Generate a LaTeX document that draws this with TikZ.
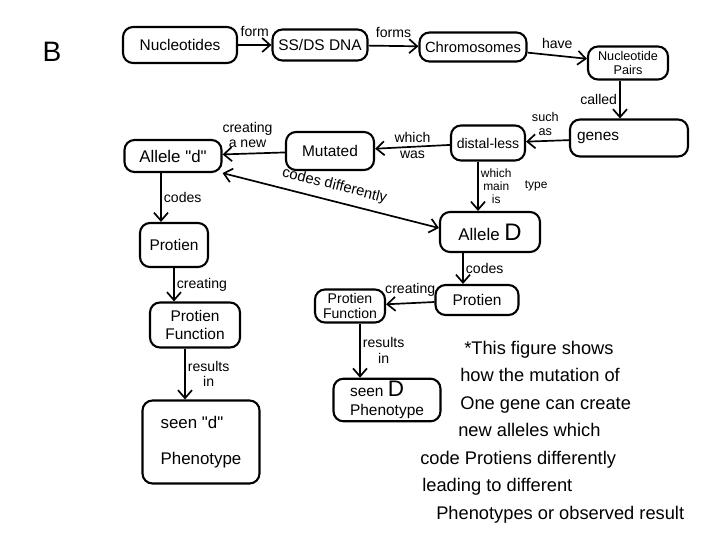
\documentclass[tikz,border=0pt]{standalone}
\usepackage{fontspec}
\setmainfont{Liberation Sans}
\usetikzlibrary{arrows.meta,positioning}

\begin{document}
\begin{tikzpicture}[
    x=0.25mm, y=-0.25mm,
    >={Straight Barb[length=2mm,width=3.5mm]},
    concept/.style={draw, rounded corners=2.5mm, line width=1.5pt, align=center,
                    inner sep=2pt, font=\fontsize{11}{13}\selectfont},
    link/.style={->, line width=1.2pt},
    verb/.style={font=\fontsize{10}{11}\selectfont, inner sep=1.5pt, align=center},
  ]
    \useasboundingbox (0,0) rectangle (720,540);

    % --- panel letter ---
    \node[font=\fontsize{20}{22}\selectfont] (panel) at (52,52) {B};

    % --- top row: nucleotides down to genes ---
    \node[concept, minimum width=28.5mm, minimum height=9mm] (nuc) at (180,45) {Nucleotides};
    \node[concept, minimum width=23.75mm, minimum height=7.75mm] (dna) at (320,45) {SS/DS DNA};
    \node[concept, minimum width=26.75mm, minimum height=7.25mm,
          font=\fontsize{10.5}{12}\selectfont] (chrom) at (473,47) {Chromosomes};
    \node[concept, minimum width=20mm, minimum height=8.25mm,
          font=\fontsize{9}{10}\selectfont] (pairs) at (628,63) {Nucleotide\\Pairs};
    \node[concept, minimum width=29.5mm, minimum height=9.25mm,
          text width=26mm, align=left] (genes) at (629,138) {genes};

    \draw[link] (nuc) -- node[verb, above=4pt] {form} (dna);
    \draw[link] (dna) -- node[verb, above=4pt] {forms} (chrom);
    \draw[link] (chrom) -- node[verb, above=3pt] {have} (pairs);
    \draw[link] ([xshift=-2mm]pairs.south) -- ([xshift=-2mm]pairs.south |- genes.north)
      node[verb, midway, left] {called};

    % --- the mutated gene ---
    \node[concept, minimum width=18.5mm, minimum height=8.75mm,
          font=\fontsize{10}{12}\selectfont] (distal) at (488,143) {distal-less};
    \node[concept, minimum width=22mm, minimum height=9.5mm] (mut) at (330,151) {Mutated};
    \node[concept, minimum width=24.25mm, minimum height=8mm,
          font=\fontsize{12}{14}\selectfont] (alleled) at (173,156)
      {Allele \textquotedbl d\textquotedbl};
    \node[concept, minimum width=25mm, minimum height=10mm,
          font=\fontsize{12}{14}\selectfont] (alleleD) at (490,232)
      {Allele {\fontsize{17}{17}\selectfont D}};

    \draw[link] (genes) -- node[verb, above=2pt, pos=0.55, font=\fontsize{9}{10}\selectfont] {such\\as} (distal);
    \draw[link] (distal) -- node[verb, above=1pt] {which} node[verb, below=1pt] {was} (mut);
    \draw[link] (mut) -- node[verb, above=2pt, pos=0.6] {creating\\a new} (alleled);
    \draw[<->, line width=1.2pt] (alleled.south east) --
      node[sloped, above=2pt, font=\fontsize{10.5}{12}\selectfont] {codes differently}
      ([yshift=1mm]alleleD.west);
    \draw[link] ([xshift=-2.5mm]distal.south) -- ([xshift=-2.5mm]distal.south |- alleleD.north)
      node[verb, midway, right, font=\fontsize{8.5}{9.5}\selectfont] (whichis) {which\\main\\is};
    \node[verb, right=2mm of whichis, font=\fontsize{8.5}{9.5}\selectfont] (mtype) {type};

    % --- recessive branch ---
    \node[concept, minimum width=17mm, minimum height=11mm] (protL) at (174,245) {Protien};
    \node[concept, minimum width=22.5mm, minimum height=11.25mm] (pfL) at (195,325) {Protien\\Function};
    \node[concept, minimum width=29.25mm, minimum height=20.75mm, align=left,
          font=\fontsize{12}{14}\selectfont] (seend) at (201,442)
      {seen \textquotedbl d\textquotedbl\\[4mm]Phenotype};

    \draw[link] ([xshift=-3mm]alleled.south) -- ([xshift=-3mm]alleled.south |- protL.north)
      node[verb, midway, right] {codes};
    \draw[link] (protL.south) -- (protL.south |- pfL.north)
      node[verb, midway, right] {creating};
    \draw[link] ([xshift=-2.5mm]pfL.south) -- ([xshift=-2.5mm]pfL.south |- seend.north)
      node[verb, midway, right] {results\\in};

    % --- dominant branch ---
    \node[concept, minimum width=20.75mm, minimum height=7.5mm] (protR) at (477,300) {Protien};
    \node[concept, minimum width=17.5mm, minimum height=8.25mm,
          font=\fontsize{10}{11}\selectfont] (pfR) at (350,306) {Protien\\Function};
    \node[concept, minimum width=26.75mm, minimum height=10mm, align=left] (seenD) at (387,400)
      {seen {\fontsize{16}{16}\selectfont D}\\Phenotype};

    \draw[link] ([xshift=-3.5mm]protR.north |- alleleD.south) -- ([xshift=-3.5mm]protR.north)
      node[verb, midway, right] {codes};
    \draw[link] (protR) -- node[verb, above=3pt] {creating} (pfR);
    \draw[link] ([xshift=2.5mm]pfR.south) -- ([xshift=2.5mm]pfR.south |- seenD.north)
      node[verb, midway, right] {results\\in};

    % --- note ---
    \node[anchor=north west, inner sep=0pt, align=left,
          font=\fontsize{13}{19.5}\selectfont] (note) at (420,341)
      {\hspace*{11mm}*This figure shows\\
       \hspace*{10mm}how the mutation of\\
       \hspace*{10mm}One gene can create\\
       \hspace*{9.5mm}new alleles which\\
       code Protiens differently\\
       \hspace*{0.5mm}leading to different\\
       \hspace*{4mm}Phenotypes or observed result};
  \end{tikzpicture}
\end{document}
